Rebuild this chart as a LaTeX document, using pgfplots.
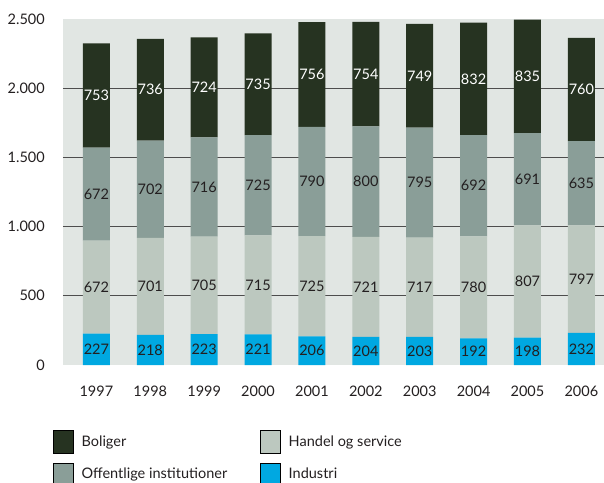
\documentclass[border=0pt]{standalone}
\usepackage{pgfplots}
\pgfplotsset{compat=1.18}
\usepackage{pgfplotstable}
\usepackage{fontspec}
\setmainfont{Lato}
\definecolor{bolc}{HTML}{263321}
\definecolor{offc}{HTML}{8A9E98}
\definecolor{hanc}{HTML}{BCC8BF}
\definecolor{indc}{HTML}{00A8E1}
\definecolor{bgc}{HTML}{E1E6E3}
\definecolor{gridc}{HTML}{4D4D4D}
\definecolor{txtc}{HTML}{231F20}
% drawn segment heights (ind han off bol) and printed labels (lind lhan loff lbol)
\pgfplotstableread{
year ind han off bol lind lhan loff lbol
1997 227 672 672 753 227 672 672 753
1998 218 701 702 736 218 701 702 736
1999 223 705 716 724 223 705 716 724
2000 221 715 725 735 221 715 725 735
2001 206 725 790 756 206 725 790 756
2002 204 721 800 754 204 721 800 754
2003 203 717 795 749 203 717 795 749
2004 192 738 731 812 192 780 692 832
2005 198 811 667 819 198 807 691 835
2006 232 777 609 746 232 797 635 760
}\data
\begin{document}
\begin{tikzpicture}
\useasboundingbox (-63bp,-118bp) rectangle (541bp,365bp);
\pgfplotsset{common/.style={scale only axis, width=541bp, height=346bp,
  xmin=1996.38, xmax=2006.42, ymin=0, ymax=2500}}
\begin{axis}[common, ybar stacked, bar width=27bp,
  axis background/.style={fill=bgc},
  axis line style={draw=none},
  tick style={draw=none},
  ytick={500,1000,1500,2000},
  extra y ticks={0,2500},
  extra y tick style={grid=none},
  ymajorgrids,
  major grid style={gridc, line width=1bp},
  xtick={1997,1998,1999,2000,2001,2002,2003,2004,2005,2006},
  /pgf/number format/assume math mode=true,
  /pgf/number format/.cd, 1000 sep={.}, /pgfplots/.cd,
  yticklabel style={font=\fontsize{14.5bp}{16bp}\selectfont, text=txtc, anchor=east, inner sep=0pt, xshift=-18bp},
  xticklabel style={font=\fontsize{14.5bp}{16bp}\selectfont, text=txtc, anchor=center, inner sep=0pt, yshift=-26bp, /pgf/number format/1000 sep={}},
  legend columns=2,
  legend cell align=left,
  legend image code/.code={\fill[#1] (0bp,-11.5bp) rectangle (20bp,11.5bp);},
  legend style={draw=none, fill=none, inner sep=0pt, at={(-0.0185,-0.188)}, anchor=north west,
    font=\fontsize{14.5bp}{16bp}\selectfont, text=txtc,
    row sep=9bp,
    nodes={inner sep=0pt, anchor=west},
    /tikz/every odd column/.append style={column sep=8bp},
    /tikz/every even column/.append style={column sep=33bp}},
]
\addlegendimage{fill=bolc}\addlegendentry{Boliger}
\addlegendimage{fill=hanc}\addlegendentry{Handel og service}
\addlegendimage{fill=offc}\addlegendentry{Offentlige institutioner}
\addlegendimage{fill=indc}\addlegendentry{Industri}
\addplot[fill=indc, draw=none, forget plot] table[x=year, y=ind] {\data};
\addplot[fill=hanc, draw=none, forget plot] table[x=year, y=han] {\data};
\addplot[fill=offc, draw=none, forget plot] table[x=year, y=off] {\data};
\addplot[fill=bolc, draw=none, forget plot] table[x=year, y=bol] {\data};
\end{axis}
\begin{axis}[common, hide axis,
  point meta=explicit,
  nodes near coords,
  every node near coord/.style={anchor=center, inner sep=0pt, font=\fontsize{14.5bp}{16bp}\selectfont},
  /pgf/number format/.cd, fixed, precision=0, assume math mode=true, /pgfplots/.cd]
\addplot[draw=none, mark=none, nodes near coords style={text=txtc}] table[x=year, y expr=\thisrow{ind}/2, meta=lind] {\data};
\addplot[draw=none, mark=none, nodes near coords style={text=txtc}] table[x=year, y expr=\thisrow{ind}+\thisrow{han}/2, meta=lhan] {\data};
\addplot[draw=none, mark=none, nodes near coords style={text=txtc}] table[x=year, y expr=\thisrow{ind}+\thisrow{han}+\thisrow{off}/2, meta=loff] {\data};
\addplot[draw=none, mark=none, nodes near coords style={text=white}] table[x=year, y expr=\thisrow{ind}+\thisrow{han}+\thisrow{off}+\thisrow{bol}/2, meta=lbol] {\data};
\end{axis}
\end{tikzpicture}
\end{document}
